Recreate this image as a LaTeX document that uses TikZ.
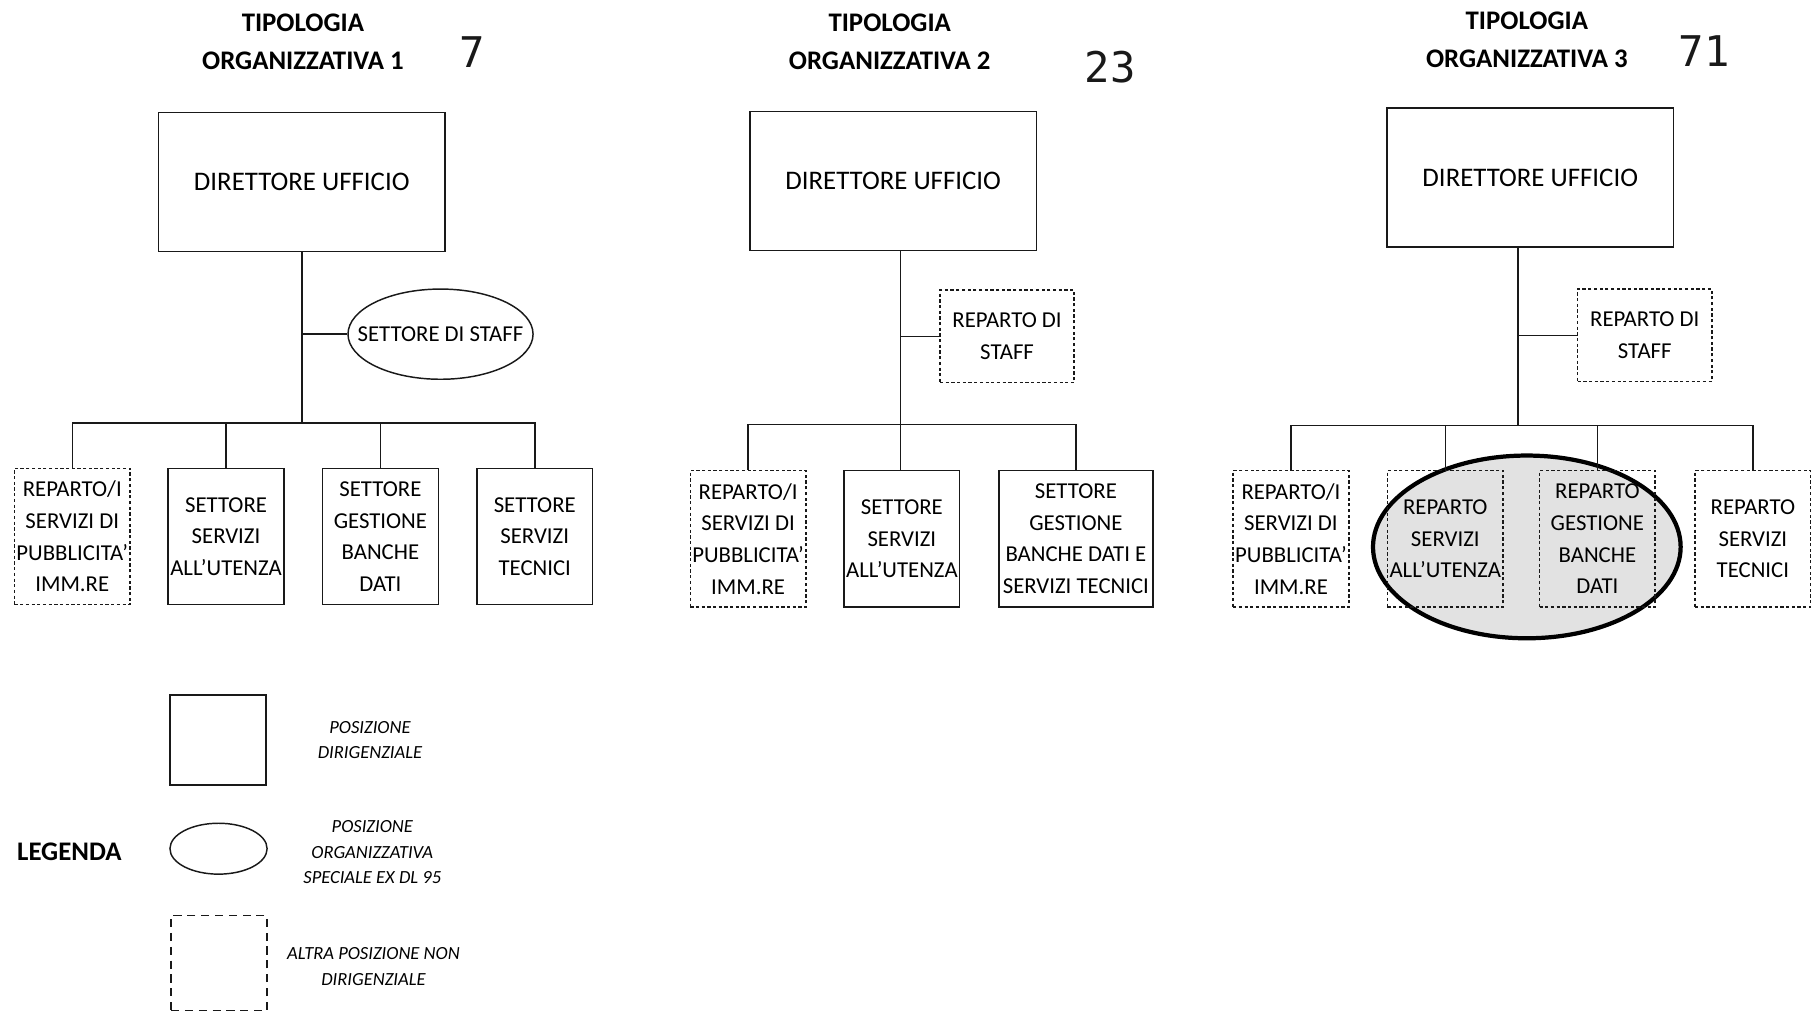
\documentclass[tikz,border=0pt]{standalone}
\usepackage{fontspec}
\setmainfont{Carlito}
\newfontfamily\tallyfont{DejaVu Sans Mono}
\usetikzlibrary{shapes.geometric}
\definecolor{cInk}{RGB}{25,25,25}
\definecolor{cShade}{RGB}{226,226,226}
\tikzset{
  conn/.style={draw=cInk,line width=0.9pt},
  basebox/.style={rectangle,draw=cInk,line width=0.9pt,align=center,inner sep=0pt},
  dirbox/.style={basebox,minimum width=6.2cm,minimum height=3cm,
                 font=\fontsize{16.5}{20}\selectfont},
  unitfont/.style={font=\fontsize{14}{19.5}\selectfont,align=center},
  unitbox/.style={basebox,unitfont,minimum width=2.5cm,minimum height=2.95cm},
  dashbox/.style={unitbox,dash pattern=on 2pt off 1.5pt},
  staffbox/.style={dashbox,minimum width=2.9cm,minimum height=2cm},
  staffoval/.style={ellipse,draw=cInk,line width=0.9pt,inner sep=0pt,
                    minimum width=4cm,minimum height=1.95cm},
  hilite/.style={ellipse,draw=black,fill=cShade,line width=2.6pt,inner sep=0pt,
                 minimum width=6.65cm,minimum height=3.95cm},
  titlelbl/.style={align=center,font=\fontsize{16.5}{23.4}\selectfont\bfseries},
  tallylbl/.style={font=\fontsize{26}{30}\tallyfont,text=cInk},
  legsq/.style={basebox,minimum width=2.075cm,minimum height=1.95cm},
  legoval/.style={ellipse,draw=cInk,line width=0.9pt,inner sep=0pt,
                  minimum width=2.1cm,minimum height=1.1cm},
  legdash/.style={basebox,minimum width=2.075cm,minimum height=2.05cm,
                  dash pattern=on 5pt off 3.5pt},
  legtxt/.style={align=center,font=\fontsize{11.4}{15.6}\selectfont\itshape}
}
\begin{document}
\begin{tikzpicture}[x=0.025cm,y=-0.025cm]
  \useasboundingbox (0,0) rectangle (1568,876);

  % tipologia 1
  \node[titlelbl] (tit1) at (262,36.5) {TIPOLOGIA\\ORGANIZZATIVA 1};
  \node[tallylbl] (num1) at (408,45) {7};
  \node[dirbox] (dir1) at (261,157.5) {DIRETTORE UFFICIO};
  \node[staffoval,label={[unitfont]center:SETTORE DI STAFF}] (staff1) at (381,289) {};
  \node[dashbox] (pub1) at (62.5,464) {REPARTO/I\\SERVIZI DI\\PUBBLICITA’\\IMM.RE};
  \node[unitbox] (ute1) at (195.5,464) {SETTORE\\SERVIZI\\ALL’UTENZA};
  \node[unitbox] (ban1) at (329,464) {SETTORE\\GESTIONE\\BANCHE\\DATI};
  \node[unitbox] (tec1) at (462.5,464) {SETTORE\\SERVIZI\\TECNICI};
  \coordinate (bus1) at (261,366);
  \draw[conn] (dir1.south) -- (bus1);
  \draw[conn] (staff1.west) -- (staff1.west -| dir1.south);
  \draw[conn] (pub1.north) |- (bus1) -| (tec1.north);
  \foreach \u in {ute1,ban1}
    \draw[conn] (\u.north) -- (\u.north |- bus1);

  % tipologia 2
  \node[titlelbl] (tit2) at (769.5,36.5) {TIPOLOGIA\\ORGANIZZATIVA 2};
  \node[tallylbl] (num2) at (960,58) {23};
  \node[dirbox] (dir2) at (772.5,156.5) {DIRETTORE UFFICIO};
  \node[staffbox] (staff2) at (871,291) {REPARTO DI\\STAFF};
  \node[dashbox] (pub2) at (647,466) {REPARTO/I\\SERVIZI DI\\PUBBLICITA’\\IMM.RE};
  \node[unitbox] (ute2) at (780,466) {SETTORE\\SERVIZI\\ALL’UTENZA};
  \node[unitbox,minimum width=3.33cm] (bantec2) at (930.5,466)
      {SETTORE\\GESTIONE\\BANCHE DATI E\\SERVIZI TECNICI};
  \coordinate (bus2) at (779,367);
  \draw[conn] (dir2.south -| bus2) -- (ute2.north -| bus2);
  \draw[conn] (staff2.west) -- (staff2.west -| bus2);
  \draw[conn] (pub2.north) |- (bus2) -| (bantec2.north);

  % tipologia 3
  \node[titlelbl] (tit3) at (1320.5,34.5) {TIPOLOGIA\\ORGANIZZATIVA 3};
  \node[tallylbl] (num3) at (1474,44) {71};
  \node[dirbox] (dir3) at (1323.5,153.5) {DIRETTORE UFFICIO};
  \node[staffbox] (staff3) at (1422.5,290) {REPARTO DI\\STAFF};
  \node[hilite] (merge3) at (1320.5,473) {};
  \node[dashbox] (pub3) at (1116.5,466) {REPARTO/I\\SERVIZI DI\\PUBBLICITA’\\IMM.RE};
  \node[dashbox] (ute3) at (1250,466) {REPARTO\\SERVIZI\\ALL’UTENZA};
  \node[dashbox] (ban3) at (1381.5,466) {REPARTO\\GESTIONE\\BANCHE\\DATI};
  \node[dashbox] (tec3) at (1516,466) {REPARTO\\SERVIZI\\TECNICI};
  \coordinate (bus3) at (1313,368);
  \draw[conn] (dir3.south -| bus3) -- (bus3);
  \draw[conn] (staff3.west) -- (staff3.west -| bus3);
  \draw[conn] (pub3.north) |- (bus3) -| (tec3.north);
  \foreach \u in {ute3,ban3}
    \draw[conn] (\u.north) -- (\u.north |- bus3);

  % legenda
  \node[titlelbl] (leg) at (60,737) {LEGENDA};
  \node[legsq] (legdir) at (188.5,640) {};
  \node[legoval] (legspec) at (189,734) {};
  \node[legdash] (legnd) at (189.5,833) {};
  \node[legtxt] (txtdir) at (320,640) {POSIZIONE\\DIRIGENZIALE};
  \node[legtxt] (txtspec) at (322,737) {POSIZIONE\\ORGANIZZATIVA\\SPECIALE EX DL 95};
  \node[legtxt] (txtnd) at (323,836) {ALTRA POSIZIONE NON\\DIRIGENZIALE};
\end{tikzpicture}
\end{document}
